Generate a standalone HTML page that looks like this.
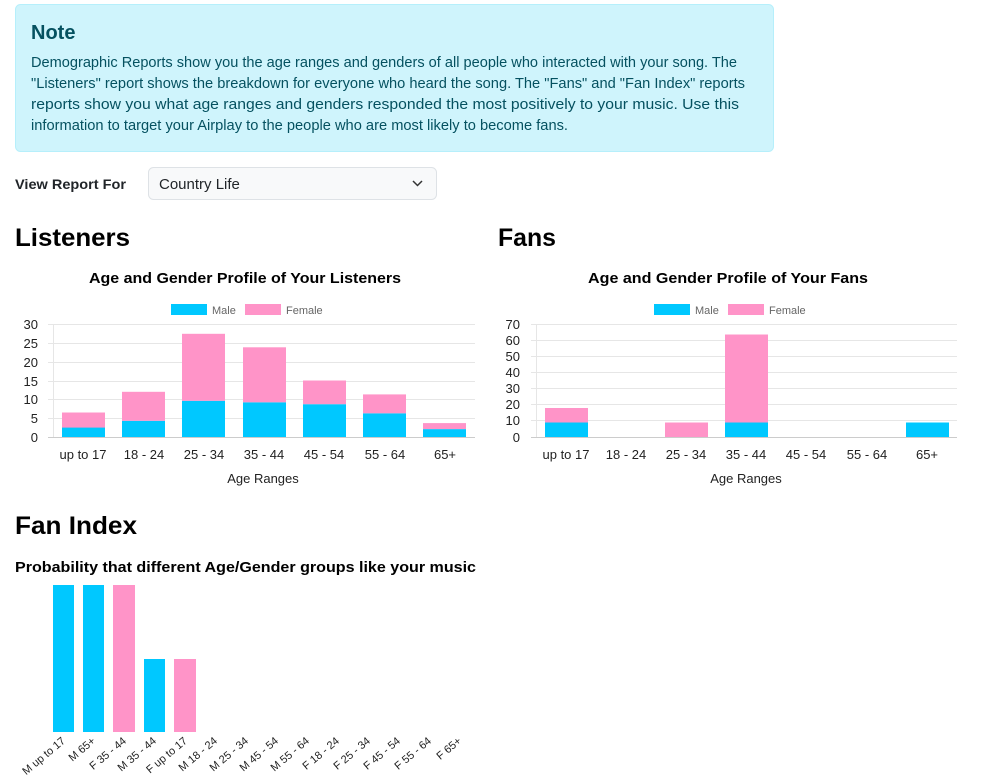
<!DOCTYPE html>
<html><head><meta charset="utf-8"><style>
html,body{margin:0;padding:0;background:#fff;width:1000px;height:778px;overflow:hidden}
svg{display:block}
</style></head><body>
<svg width="1000" height="778" xmlns="http://www.w3.org/2000/svg" font-family="Liberation Sans, sans-serif">
<rect x="15.5" y="4.5" width="758" height="147" rx="5" fill="#cff4fc" stroke="#b6effb"/>
<text x="31" y="39" font-size="20" font-weight="bold" fill="#055160">Note</text>
<g font-size="14.5" fill="#055160">
<text x="31" y="67" textLength="706" lengthAdjust="spacingAndGlyphs">Demographic Reports show you the age ranges and genders of all people who interacted with your song. The</text>
<text x="31" y="88" textLength="714" lengthAdjust="spacingAndGlyphs">"Listeners" report shows the breakdown for everyone who heard the song. The "Fans" and "Fan Index" reports</text>
<text x="31" y="109" textLength="708" lengthAdjust="spacingAndGlyphs">reports show you what age ranges and genders responded the most positively to your music. Use this</text>
<text x="31" y="130" textLength="537" lengthAdjust="spacingAndGlyphs">information to target your Airplay to the people who are most likely to become fans.</text>
</g>
<text x="15" y="189" font-size="14" font-weight="bold" fill="#212529" textLength="111" lengthAdjust="spacingAndGlyphs">View Report For</text>
<rect x="148.5" y="167.5" width="288" height="32" rx="5" fill="#f8f9fa" stroke="#dee2e6"/>
<text x="159" y="189" font-size="15" fill="#212529">Country Life</text>
<path d="M413 181 l4.5 4.5 l4.5 -4.5" fill="none" stroke="#333" stroke-width="1.5"/>
<text x="15" y="246" font-size="25" font-weight="bold" fill="#000" textLength="115" lengthAdjust="spacingAndGlyphs">Listeners</text>
<text x="498" y="246" font-size="25" font-weight="bold" fill="#000" textLength="58" lengthAdjust="spacingAndGlyphs">Fans</text>
<text x="15" y="534" font-size="25" font-weight="bold" fill="#000" textLength="122" lengthAdjust="spacingAndGlyphs">Fan Index</text>
<text x="245" y="283" font-size="15" font-weight="bold" text-anchor="middle" textLength="312" lengthAdjust="spacingAndGlyphs">Age and Gender Profile of Your Listeners</text>
<text x="728" y="283" font-size="15" font-weight="bold" text-anchor="middle" textLength="280" lengthAdjust="spacingAndGlyphs">Age and Gender Profile of Your Fans</text>
<text x="15" y="572" font-size="15" font-weight="bold" textLength="461" lengthAdjust="spacingAndGlyphs">Probability that different Age/Gender groups like your music</text>
<!-- legends -->
<g font-size="11" fill="#666">
<rect x="171" y="304" width="36" height="11" fill="#00c8ff"/><text x="212" y="314">Male</text>
<rect x="245" y="304" width="36" height="11" fill="#ff94c8"/><text x="286" y="314">Female</text>
<rect x="654" y="304" width="36" height="11" fill="#00c8ff"/><text x="695" y="314">Male</text>
<rect x="728" y="304" width="36" height="11" fill="#ff94c8"/><text x="769" y="314">Female</text>
</g>
<!-- listeners grid -->
<g stroke="#e6e6e6">
<line x1="48" x2="475" y1="324.5" y2="324.5"/><line x1="48" x2="475" y1="343.5" y2="343.5"/><line x1="48" x2="475" y1="362.5" y2="362.5"/><line x1="48" x2="475" y1="381.5" y2="381.5"/><line x1="48" x2="475" y1="399.5" y2="399.5"/><line x1="48" x2="475" y1="418.5" y2="418.5"/>
<line x1="53.5" x2="53.5" y1="324" y2="437"/>
<line x1="531" x2="957" y1="324.5" y2="324.5"/><line x1="531" x2="957" y1="340.5" y2="340.5"/><line x1="531" x2="957" y1="356.5" y2="356.5"/><line x1="531" x2="957" y1="372.5" y2="372.5"/><line x1="531" x2="957" y1="388.5" y2="388.5"/><line x1="531" x2="957" y1="404.5" y2="404.5"/><line x1="531" x2="957" y1="420.5" y2="420.5"/>
<line x1="536.5" x2="536.5" y1="324" y2="437"/>
</g>
<g stroke="#ccc"><line x1="48" x2="475" y1="437.5" y2="437.5"/><line x1="531" x2="957" y1="437.5" y2="437.5"/></g>
<g font-size="13" fill="#222" text-anchor="end">
<text x="38" y="329">30</text><text x="38" y="348">25</text><text x="38" y="367">20</text><text x="38" y="386">15</text><text x="38" y="404">10</text><text x="38" y="423">5</text><text x="38" y="442">0</text>
<text x="520" y="329">70</text><text x="520" y="345">60</text><text x="520" y="361">50</text><text x="520" y="377">40</text><text x="520" y="393">30</text><text x="520" y="409">20</text><text x="520" y="425">10</text><text x="520" y="442">0</text>
</g>
<!-- listeners bars -->
<g>
<rect x="62" y="412.5" width="43" height="24.5" fill="#00c8ff"/><rect x="62" y="413" width="43" height="0" fill="#fff"/><rect x="62" y="412.5" width="43" height="0"/>
<rect x="62" y="412.5" width="43" height="24.5" fill="#00c8ff"/><rect x="62" y="412.5" width="43" height="0"/>
</g>
<g fill="#00c8ff">
<rect x="62" y="427.6" width="43" height="9.4"/>
<rect x="122" y="420.8" width="43" height="16.2"/>
<rect x="182" y="400.8" width="43" height="36.2"/>
<rect x="243" y="402.3" width="43" height="34.7"/>
<rect x="303" y="404.2" width="43" height="32.8"/>
<rect x="363" y="413.3" width="43" height="23.7"/>
<rect x="423" y="429.1" width="43" height="7.9"/>
<rect x="545" y="422.5" width="43" height="14.5"/>
<rect x="725" y="422.5" width="43" height="14.5"/>
<rect x="906" y="422.5" width="43" height="14.5"/>
<rect x="53" y="585" width="21" height="147"/>
<rect x="83" y="585" width="21" height="147"/>
<rect x="144" y="659" width="21" height="73"/>
</g>
<g fill="#ff94c8">
<rect x="62" y="412.5" width="43" height="15.1"/>
<rect x="122" y="391.8" width="43" height="29"/>
<rect x="182" y="333.8" width="43" height="67"/>
<rect x="243" y="347.3" width="43" height="55"/>
<rect x="303" y="380.5" width="43" height="23.7"/>
<rect x="363" y="394.4" width="43" height="18.9"/>
<rect x="423" y="423.1" width="43" height="6"/>
<rect x="545" y="408" width="43" height="14.5"/>
<rect x="665" y="422.5" width="43" height="14.5"/>
<rect x="725" y="334.5" width="43" height="88"/>
<rect x="113" y="585" width="22" height="147"/>
<rect x="174" y="659" width="22" height="73"/>
</g>
<g font-size="13" fill="#222" text-anchor="middle">
<text x="83" y="459">up to 17</text><text x="144" y="459">18 - 24</text><text x="204" y="459">25 - 34</text><text x="264" y="459">35 - 44</text><text x="324" y="459">45 - 54</text><text x="385" y="459">55 - 64</text><text x="445" y="459">65+</text>
<text x="263" y="483">Age Ranges</text>
<text x="566" y="459">up to 17</text><text x="626" y="459">18 - 24</text><text x="686" y="459">25 - 34</text><text x="746" y="459">35 - 44</text><text x="806" y="459">45 - 54</text><text x="867" y="459">55 - 64</text><text x="927" y="459">65+</text>
<text x="746" y="483">Age Ranges</text>
</g>
<g font-size="11" fill="#222" text-anchor="end">
<text transform="translate(66,742) rotate(-40)">M up to 17</text>
<text transform="translate(96,742) rotate(-40)">M 65+</text>
<text transform="translate(127,742) rotate(-40)">F 35 - 44</text>
<text transform="translate(157,742) rotate(-40)">M 35 - 44</text>
<text transform="translate(188,742) rotate(-40)">F up to 17</text>
<text transform="translate(218,742) rotate(-40)">M 18 - 24</text>
<text transform="translate(249,742) rotate(-40)">M 25 - 34</text>
<text transform="translate(279,742) rotate(-40)">M 45 - 54</text>
<text transform="translate(310,742) rotate(-40)">M 55 - 64</text>
<text transform="translate(340,742) rotate(-40)">F 18 - 24</text>
<text transform="translate(371,742) rotate(-40)">F 25 - 34</text>
<text transform="translate(401,742) rotate(-40)">F 45 - 54</text>
<text transform="translate(432,742) rotate(-40)">F 55 - 64</text>
<text transform="translate(462,742) rotate(-40)">F 65+</text>
</g>
</svg>
</body></html>
